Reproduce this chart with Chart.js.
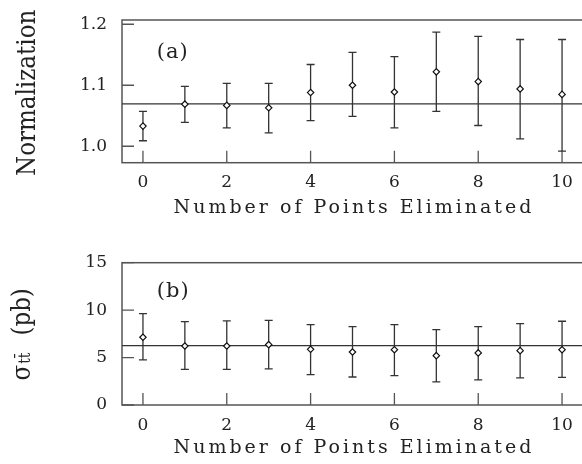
<!DOCTYPE html>
<html>
<head>
<meta charset="utf-8">
<script src="https://cdn.jsdelivr.net/npm/chart.js@4.4.1/dist/chart.umd.min.js"></script>
<style>
  body { margin: 0; background: #fff; overflow: hidden; width: 582px; height: 464px; position: relative; }
  canvas { position: absolute; left: 0; }
  #chart-a { top: 0; }
  #chart-b { top: 232px; }
</style>
</head>
<body>
<canvas id="chart-a" width="600" height="232"></canvas>
<canvas id="chart-b" width="600" height="232"></canvas>
<script>
const pointsEliminated = [0, 1, 2, 3, 4, 5, 6, 7, 8, 9, 10];
const xTicks = [0, 2, 4, 6, 8, 10];
const xLabel = "Number of Points Eliminated";

// panel (a)
const normValues = [1.033, 1.069, 1.067, 1.063, 1.088, 1.100, 1.089, 1.122, 1.106, 1.094, 1.085];
const normUpper  = [1.057, 1.098, 1.103, 1.103, 1.134, 1.154, 1.147, 1.187, 1.180, 1.175, 1.175];
const normLower  = [1.009, 1.039, 1.030, 1.022, 1.042, 1.049, 1.030, 1.057, 1.034, 1.012, 0.992];
const normFit = 1.0695;
const normTicks = [1.0, 1.1, 1.2];

// panel (b)
const xsecValues = [7.14, 6.22, 6.22, 6.36, 5.87, 5.59, 5.83, 5.20, 5.49, 5.73, 5.83];
const xsecUpper  = [9.63, 8.79, 8.86, 8.93, 8.47, 8.26, 8.47, 7.94, 8.26, 8.58, 8.83];
const xsecLower  = [4.75, 3.76, 3.76, 3.80, 3.20, 2.95, 3.09, 2.43, 2.64, 2.85, 2.92];
const xsecFit = 6.26;
const xsecTicks = [0, 5, 10, 15];

const X_MIN = -0.5, X_MAX = 10.5;
const INK = "#222";
const FRAME = "#555";

Chart.defaults.font.family = "'DejaVu Serif', serif";
Chart.defaults.color = INK;

// box around the plot + inward tick marks
const framePlugin = {
  id: "frame",
  beforeDatasetsDraw(chart) {
    const { ctx, chartArea: a, scales } = chart;
    ctx.save();
    ctx.strokeStyle = FRAME;
    ctx.lineWidth = 1.5;
    ctx.strokeRect(a.left, a.top, a.right - a.left, a.bottom - a.top);
    ctx.lineWidth = 1.3;
    ctx.beginPath();
    scales.x.ticks.forEach((t) => {
      const px = scales.x.getPixelForValue(t.value);
      ctx.moveTo(px, a.bottom);
      ctx.lineTo(px, a.bottom - 12);
    });
    scales.y.ticks.forEach((t) => {
      const py = scales.y.getPixelForValue(t.value);
      ctx.moveTo(a.left, py);
      ctx.lineTo(a.left + 12, py);
    });
    ctx.stroke();
    ctx.restore();
  },
};

const errorBarPlugin = {
  id: "errorBars",
  beforeDatasetsDraw(chart) {
    const { ctx, scales: { y } } = chart;
    chart.data.datasets.forEach((ds, i) => {
      if (!ds.errHigh) return;
      const meta = chart.getDatasetMeta(i);
      ctx.save();
      ctx.strokeStyle = "#333";
      ctx.lineWidth = 1.3;
      ctx.beginPath();
      meta.data.forEach((pt, j) => {
        const top = y.getPixelForValue(ds.errHigh[j]);
        const bot = y.getPixelForValue(ds.errLow[j]);
        ctx.moveTo(pt.x, top); ctx.lineTo(pt.x, bot);
        ctx.moveTo(pt.x - 4, top); ctx.lineTo(pt.x + 4, top);
        ctx.moveTo(pt.x - 4, bot); ctx.lineTo(pt.x + 4, bot);
      });
      ctx.stroke();
      ctx.restore();
    });
  },
};

// axis titles (x title letter-spaced, y title rotated and a little stretched)
const titlePlugin = {
  id: "axisTitles",
  afterDraw(chart, args, opts) {
    const { ctx, chartArea: a, scales } = chart;
    ctx.save();
    ctx.fillStyle = INK;
    ctx.font = "19px 'DejaVu Serif'";
    ctx.letterSpacing = "3px";
    ctx.textAlign = "center";
    ctx.textBaseline = "alphabetic";
    ctx.fillText(xLabel, (a.left + a.right) / 2 + 1.5, a.bottom + opts.xOffset);

    // panel tag (a)/(b)
    ctx.font = "21px 'DejaVu Serif'";
    ctx.letterSpacing = "1px";
    ctx.textAlign = "left";
    ctx.textBaseline = "middle";
    ctx.fillText(opts.tag, scales.x.getPixelForValue(0.33), a.top + opts.tagOffset);

    ctx.letterSpacing = "0px";
    ctx.textBaseline = "alphabetic";
    ctx.translate(opts.yBase, (a.top + a.bottom) / 2 + opts.yShift);
    ctx.rotate(-Math.PI / 2);
    ctx.scale(1, 1.15);
    opts.drawY(ctx);
    ctx.restore();
  },
};

function makePanel(canvasId, opt) {
  return new Chart(document.getElementById(canvasId), {
    data: {
      datasets: [
        {
          type: "line",
          data: [{ x: X_MIN, y: opt.fit }, { x: X_MAX, y: opt.fit }],
          borderColor: "#333",
          borderWidth: 1.3,
          pointRadius: 0,
          order: 2,
        },
        {
          type: "scatter",
          data: pointsEliminated.map((x, i) => ({ x, y: opt.values[i] })),
          errHigh: opt.upper,
          errLow: opt.lower,
          pointStyle: "rectRot",
          pointRadius: 3.2,
          borderWidth: 1.2,
          borderColor: "#111",
          backgroundColor: "#fff",
          order: 1,
        },
      ],
    },
    options: {
      responsive: false,
      animation: false,
      layout: { padding: { top: opt.padTop, right: 17, left: 0, bottom: 0 } },
      plugins: {
        legend: { display: false },
        tooltip: { enabled: false },
        axisTitles: {
          xOffset: opt.xOffset, yBase: opt.yBase, yShift: opt.yShift,
          tag: opt.tag, tagOffset: opt.tagOffset, drawY: opt.drawY,
        },
      },
      scales: {
        x: {
          type: "linear",
          min: X_MIN,
          max: X_MAX,
          grid: { display: false },
          border: { display: false },
          afterBuildTicks: (s) => { s.ticks = xTicks.map((v) => ({ value: v })); },
          afterFit: (s) => { s.height = opt.xHeight; },
          ticks: { font: { size: 17 }, padding: 2, color: INK },
        },
        y: {
          type: "linear",
          min: opt.yMin,
          max: opt.yMax,
          grid: { display: false },
          border: { display: false },
          afterBuildTicks: (s) => { s.ticks = opt.yTicks.map((v) => ({ value: v })); },
          afterFit: (s) => { s.width = 122; },
          ticks: { font: { size: 17 }, padding: 7, color: INK, callback: opt.tickFmt },
        },
      },
    },
    plugins: [framePlugin, errorBarPlugin, titlePlugin],
  });
}

makePanel("chart-a", {
  values: normValues, upper: normUpper, lower: normLower, fit: normFit,
  yMin: 0.973, yMax: 1.207, yTicks: normTicks,
  tickFmt: (v) => v.toFixed(1),
  padTop: 20, xHeight: 69.3, xOffset: 50, yBase: 34.5, yShift: 1.5,
  tag: "(a)", tagOffset: 33,
  drawY: (ctx) => {
    ctx.font = "23px 'DejaVu Serif'";
    ctx.textAlign = "center";
    ctx.fillText("Normalization", 0, 0);
  },
});

makePanel("chart-b", {
  values: xsecValues, upper: xsecUpper, lower: xsecLower, fit: xsecFit,
  yMin: 0, yMax: 15, yTicks: xsecTicks,
  tickFmt: (v) => String(v),
  padTop: 30.7, xHeight: 59, xOffset: 47.5, yBase: 30, yShift: 1,
  tag: "(b)", tagOffset: 29,
  drawY: (ctx) => {
    const big = "23px 'DejaVu Serif'", small = "14px 'DejaVu Serif'";
    ctx.font = big;
    const wSig = ctx.measureText("σ").width;
    const wUnit = ctx.measureText("(pb)").width;
    ctx.font = small;
    const wSub = ctx.measureText("tt\u0304").width;
    const gap = 17;
    let x = -(wSig + wSub + gap + wUnit) / 2;
    ctx.textAlign = "left";
    ctx.font = big;
    ctx.fillText("σ", x, 0);
    x += wSig + 1;
    ctx.font = small;
    ctx.fillText("tt\u0304", x, 0);
    x += wSub + gap;
    ctx.font = big;
    ctx.fillText("(pb)", x, 0);
  },
});
</script>
</body>
</html>
